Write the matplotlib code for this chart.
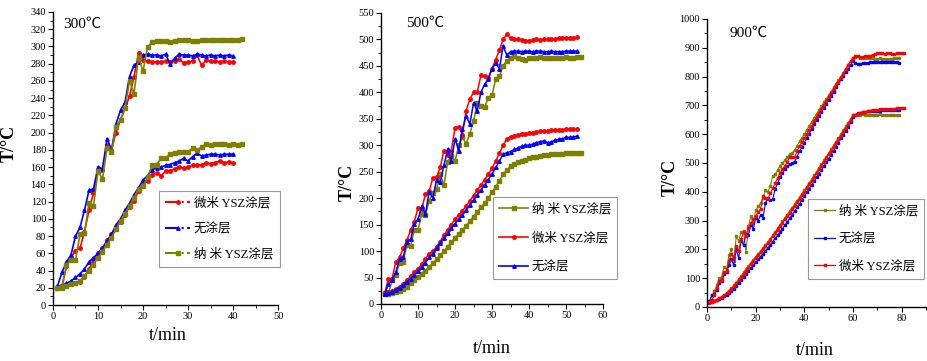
import matplotlib
matplotlib.use("Agg")
import matplotlib.pyplot as plt
from matplotlib.lines import Line2D
from matplotlib.ticker import MultipleLocator

plt.rcParams['font.family'] = ['Liberation Serif', 'Noto Sans CJK SC', 'DejaVu Serif']

RED, BLUE, OLIVE = '#ff0000', '#0000ff', '#808000'
labels = ['微米 YSZ涂层', '无涂层', '纳 米 YSZ涂层']

# ---------------- 300 ℃ ----------------
p1_up_red = [20, 22, 45, 55, 63, 66, 85, 110, 130, 155, 157, 186, 180, 200, 215, 228, 242, 265, 292, 284,
             283, 282, 282, 282, 283, 282, 283, 285, 281, 282, 283, 290, 278, 284, 283, 283, 282, 283, 282, 282]
p1_up_blue = [22, 38, 50, 58, 80, 90, 110, 133, 135, 160, 158, 193, 180, 210, 226, 235, 265, 278, 282, 290,
              291, 290, 290, 289, 291, 280, 286, 291, 290, 290, 289, 291, 290, 289, 290, 289, 290, 289, 290, 289]
p1_up_olive = [20, 20, 47, 52, 52, 82, 84, 118, 115, 155, 146, 182, 178, 207, 215, 228, 260, 245, 288, 271,
               299, 305, 306, 306, 306, 305, 306, 307, 307, 307, 306, 306, 307, 307, 308, 308, 308, 307, 308, 308, 308, 309]
p1_lo_red = [20, 21, 22, 24, 25, 27, 33, 42, 50, 60, 66, 75, 82, 90, 96, 105, 114, 121, 132, 140,
             144, 151, 153, 150, 155, 155, 158, 160, 159, 160, 162, 163, 162, 165, 164, 165, 167, 165, 166, 165]
p1_lo_blue = [22, 23, 25, 28, 32, 36, 42, 50, 55, 60, 66, 74, 82, 93, 100, 110, 118, 128, 136, 145,
              150, 157, 159, 160, 162, 163, 165, 167, 170, 167, 172, 176, 173, 174, 175, 175, 174, 175, 175, 175]
p1_lo_olive = [20, 21, 22, 24, 26, 28, 34, 40, 47, 55, 62, 70, 78, 88, 97, 106, 115, 124, 135, 138,
               148, 162, 163, 170, 170, 175, 176, 178, 178, 178, 182, 180, 183, 187, 186, 187, 187, 187, 186, 187, 186, 187]

# ---------------- 500 ℃ ----------------
p2_up_red = [20, 48, 48, 80, 88, 105, 120, 140, 155, 182, 180, 207, 213, 238, 240, 258, 290, 282, 290, 333,
             335, 320, 365, 387, 400, 400, 432, 430, 428, 445, 462, 480, 500, 510, 502, 500, 501, 499, 498, 498,
             499, 500, 499, 500, 500, 501, 501, 502, 502, 502, 502, 503, 504]
p2_up_blue = [18, 38, 45, 60, 85, 88, 118, 122, 152, 160, 185, 170, 212, 200, 235, 230, 262, 292, 270, 312,
              290, 330, 355, 340, 380, 365, 400, 415, 425, 445, 455, 445, 488, 470, 477, 478, 478, 477, 478, 478,
              477, 478, 478, 477, 477, 478, 477, 477, 477, 478, 478, 478, 478]
p2_up_olive = [20, 20, 45, 55, 78, 80, 112, 110, 140, 140, 170, 168, 195, 210, 218, 245, 225, 268, 280, 270,
               300, 315, 303, 322, 345, 380, 375, 372, 390, 395, 425, 430, 450, 460, 465, 468, 465, 463, 462, 464,
               465, 464, 466, 465, 464, 465, 465, 465, 465, 466, 464, 465, 466, 466]
p2_lo_red = [20, 22, 25, 28, 33, 38, 45, 52, 60, 67, 75, 85, 95, 100, 108, 118, 130, 140, 150, 160,
             168, 176, 185, 195, 205, 215, 225, 235, 245, 257, 270, 285, 300, 312, 316, 318, 320, 321, 322, 323,
             324, 325, 326, 327, 327, 328, 328, 329, 329, 330, 330, 330, 330]
p2_lo_blue = [18, 20, 23, 27, 31, 36, 42, 48, 55, 62, 70, 78, 88, 95, 105, 115, 125, 134, 143, 152,
              160, 168, 177, 187, 197, 206, 215, 225, 235, 246, 258, 270, 283, 286, 288, 292, 295, 298, 300, 300,
              302, 305, 307, 308, 305, 306, 310, 311, 312, 315, 315, 316, 317]
p2_lo_olive = [18, 19, 20, 22, 25, 29, 33, 39, 45, 51, 57, 63, 70, 77, 85, 92, 100, 108, 117, 125,
               133, 140, 148, 157, 165, 174, 183, 191, 200, 211, 222, 233, 245, 253, 260, 264, 268, 271, 273, 275,
               277, 278, 280, 281, 282, 283, 283, 284, 284, 285, 285, 285, 285, 285]

# ---------------- 900 ℃ ----------------
p3_up_olive = [20, 40, 55, 75, 100, 105, 140, 130, 180, 200, 160, 245, 230, 260, 265, 190, 280, 315, 290, 335,
               350, 360, 380, 405, 400, 420, 455, 460, 475, 490, 500, 510, 520, 530, 535, 545, 560, 575, 588, 600,
               615, 628, 642, 656, 670, 683, 697, 710, 722, 735, 748, 762, 775, 788, 800, 813, 827, 840, 853, 865,
               868, 870, 866, 865, 865, 864, 866, 863, 862, 862, 863, 862, 862, 861, 862, 862, 863, 864, 865]
p3_up_blue = [20, 40, 45, 60, 85, 90, 115, 120, 145, 165, 145, 200, 170, 230, 215, 255, 250, 285, 270, 310,
              300, 320, 310, 360, 380, 370, 375, 410, 430, 450, 465, 480, 488, 495, 500, 505, 522, 540, 555, 570,
              586, 602, 618, 634, 650, 664, 678, 692, 706, 720, 734, 748, 762, 776, 790, 802, 814, 825, 840, 855,
              846, 845, 845, 846, 848, 848, 849, 850, 850, 850, 850, 851, 850, 850, 850, 850, 849, 849, 848]
p3_up_red = [18, 25, 40, 65, 90, 95, 120, 125, 160, 185, 170, 210, 195, 235, 260, 245, 275, 290, 305, 315,
             330, 340, 385, 380, 375, 395, 412, 430, 448, 465, 478, 490, 505, 520, 522, 520, 540, 560, 572, 585,
             600, 615, 630, 645, 660, 674, 688, 702, 716, 730, 743, 756, 769, 782, 795, 810, 825, 840, 853, 865,
             870, 870, 868, 867, 870, 870, 872, 875, 878, 880, 880, 880, 879, 880, 880, 879, 879, 880, 881, 882, 882]
p3_lo_olive = [18, 20, 22, 25, 30, 36, 42, 49, 57, 65, 75, 85, 96, 108, 120, 131, 142, 153, 164, 175,
               185, 195, 205, 215, 225, 237, 249, 261, 273, 285, 297, 309, 321, 333, 345, 357, 369, 381, 393, 405,
               418, 431, 444, 457, 470, 483, 496, 509, 522, 535, 548, 561, 574, 587, 600, 613, 627, 640, 653, 665,
               667, 668, 668, 669, 668, 668, 667, 668, 668, 668, 669, 668, 668, 667, 668, 668, 668, 668, 668]
p3_lo_blue = [18, 19, 21, 24, 28, 32, 37, 43, 49, 55, 64, 74, 84, 94, 105, 115, 125, 135, 145, 155,
              165, 175, 185, 195, 205, 216, 227, 238, 249, 260, 272, 284, 296, 308, 320, 333, 346, 359, 372, 385,
              398, 411, 424, 437, 450, 463, 476, 489, 502, 515, 529, 543, 557, 571, 585, 598, 611, 625, 643, 660,
              668, 672, 675, 677, 678, 679, 680, 681, 682, 682, 682, 683, 683, 683, 683, 683, 683, 683, 683]
p3_lo_red = [15, 17, 20, 25, 30, 35, 41, 47, 54, 62, 72, 82, 93, 104, 115, 126, 137, 148, 159, 170,
             180, 191, 201, 212, 222, 234, 245, 257, 268, 280, 292, 304, 316, 328, 340, 352, 364, 376, 388, 400,
             413, 426, 439, 452, 465, 478, 491, 504, 517, 530, 543, 556, 569, 582, 595, 608, 621, 635, 650, 665,
             668, 670, 673, 676, 678, 680, 682, 684, 685, 685, 686, 687, 688, 688, 688, 689, 689, 690, 690, 691, 692]


def t(vals):
    return list(range(1, len(vals) + 1))


fig = plt.figure(figsize=(9.28, 3.61), dpi=100)

ax1 = fig.add_axes([0.0571, 0.155, 0.2425, 0.812])
ax2 = fig.add_axes([0.4106, 0.158, 0.2392, 0.806])
ax3 = fig.add_axes([0.7619, 0.1496, 0.2360, 0.798])


def style(ax, xlim, ylim, xmaj, xmin, ymaj, ymin, xl, yl):
    ax.set_xlim(*xlim)
    ax.set_ylim(*ylim)
    ax.xaxis.set_major_locator(MultipleLocator(xmaj))
    ax.xaxis.set_minor_locator(MultipleLocator(xmin))
    ax.yaxis.set_major_locator(MultipleLocator(ymaj))
    ax.yaxis.set_minor_locator(MultipleLocator(ymin))
    for s in ['top', 'right']:
        ax.spines[s].set_visible(False)
    for s in ['left', 'bottom']:
        ax.spines[s].set_linewidth(1.0)
    ax.tick_params(which='major', direction='out', length=3.5, width=0.8, labelsize=7.5, pad=1.5)
    ax.tick_params(which='minor', direction='out', length=2, width=0.6)
    ax.set_xlabel('t/min', fontsize=13)
    ax.set_ylabel('T/°C', fontsize=13, fontweight='bold')
    ax.xaxis.set_label_coords(*xl)
    ax.yaxis.set_label_coords(*yl)


def legend(handles, labs, x, y, spacing, hl, pad=0.3):
    leg = fig.legend(handles, labs, loc='upper left', bbox_to_anchor=(x / 928, 1 - y / 361),
                     fontsize=9, frameon=True, fancybox=False, edgecolor='#808080',
                     handlelength=hl, handletextpad=pad, borderpad=0.5, labelspacing=spacing,
                     borderaxespad=0)
    leg.get_frame().set_linewidth(0.8)
    return leg


# Panel 1
for up, lo, c, m in [(p1_up_red, p1_lo_red, RED, 'o'),
                     (p1_up_blue, p1_lo_blue, BLUE, '^'),
                     (p1_up_olive, p1_lo_olive, OLIVE, 's')]:
    ax1.plot(t(up), up, color=c, lw=1.2, marker=m, ms=2.5, mec=c, mfc=c)
    ax1.plot(t(lo), lo, color=c, lw=1.2, marker=m, ms=2.5, mec=c, mfc=c)
style(ax1, (0, 50), (0, 340), 10, 5, 20, 10, (0.51, -0.075), (-0.155, 0.553))
ax1.text(6.5, 325, '300℃', fontsize=11, ha='center', va='center')
h1 = [Line2D([0, 1, 2], [0, 0, 0], color=RED, lw=1.5, ls='-.', marker='o', ms=2.5, markevery=[1]),
      Line2D([0, 1, 2], [0, 0, 0], color=BLUE, lw=1.5, ls='-.', marker='^', ms=2.5, markevery=[1]),
      Line2D([0, 1, 2], [0, 0, 0], color=OLIVE, lw=1.5, ls='-.', marker='s', ms=2.5, markevery=[1])]
legend(h1, labels, 159, 191, 1.05, 2.0)

# Panel 2
for up, lo, c, m in [(p2_up_olive, p2_lo_olive, OLIVE, 's'),
                     (p2_up_red, p2_lo_red, RED, 'o'),
                     (p2_up_blue, p2_lo_blue, BLUE, '^')]:
    ax2.plot(t(up), up, color=c, lw=1.1, marker=m, ms=2.5, mec=c, mfc=c)
    ax2.plot(t(lo), lo, color=c, lw=1.1, marker=m, ms=2.5, mec=c, mfc=c)
style(ax2, (0, 60), (0, 550), 10, 5, 50, 25, (0.5, -0.125), (-0.115, 0.416))
ax2.text(11.8, 530, '500℃', fontsize=11, ha='center', va='center')
h2 = [Line2D([], [], color=OLIVE, lw=1.2, marker='s', ms=2.5),
      Line2D([], [], color=RED, lw=1.2, marker='o', ms=2.5),
      Line2D([], [], color=BLUE, lw=1.2, marker='^', ms=2.5)]
legend(h2, ['纳 米 YSZ涂层', '微米 YSZ涂层', '无涂层'], 493, 197, 1.3, 2.3)

# Panel 3
for up, lo, c in [(p3_up_olive, p3_lo_olive, OLIVE),
                  (p3_up_blue, p3_lo_blue, BLUE),
                  (p3_up_red, p3_lo_red, RED)]:
    ax3.plot(t(up), up, color=c, lw=0.8, marker='s', ms=1.6, mec=c, mfc=c)
    ax3.plot(t(lo), lo, color=c, lw=0.8, marker='s', ms=1.6, mec=c, mfc=c)
style(ax3, (0, 90), (0, 1000), 20, 10, 100, 50, (0.49, -0.12), (-0.13, 0.448))
ax3.text(17, 950, '900℃', fontsize=11, ha='center', va='center')
h3 = [Line2D([], [], color=OLIVE, lw=0.9, marker='s', ms=2),
      Line2D([], [], color=BLUE, lw=0.9, marker='s', ms=2),
      Line2D([], [], color=RED, lw=0.9, marker='s', ms=2)]
legend(h3, ['纳 米 YSZ涂层', '无涂层', '微米 YSZ涂层'], 808, 199, 1.2, 1.7, pad=0.25)

fig.savefig('out.png', dpi=100)
